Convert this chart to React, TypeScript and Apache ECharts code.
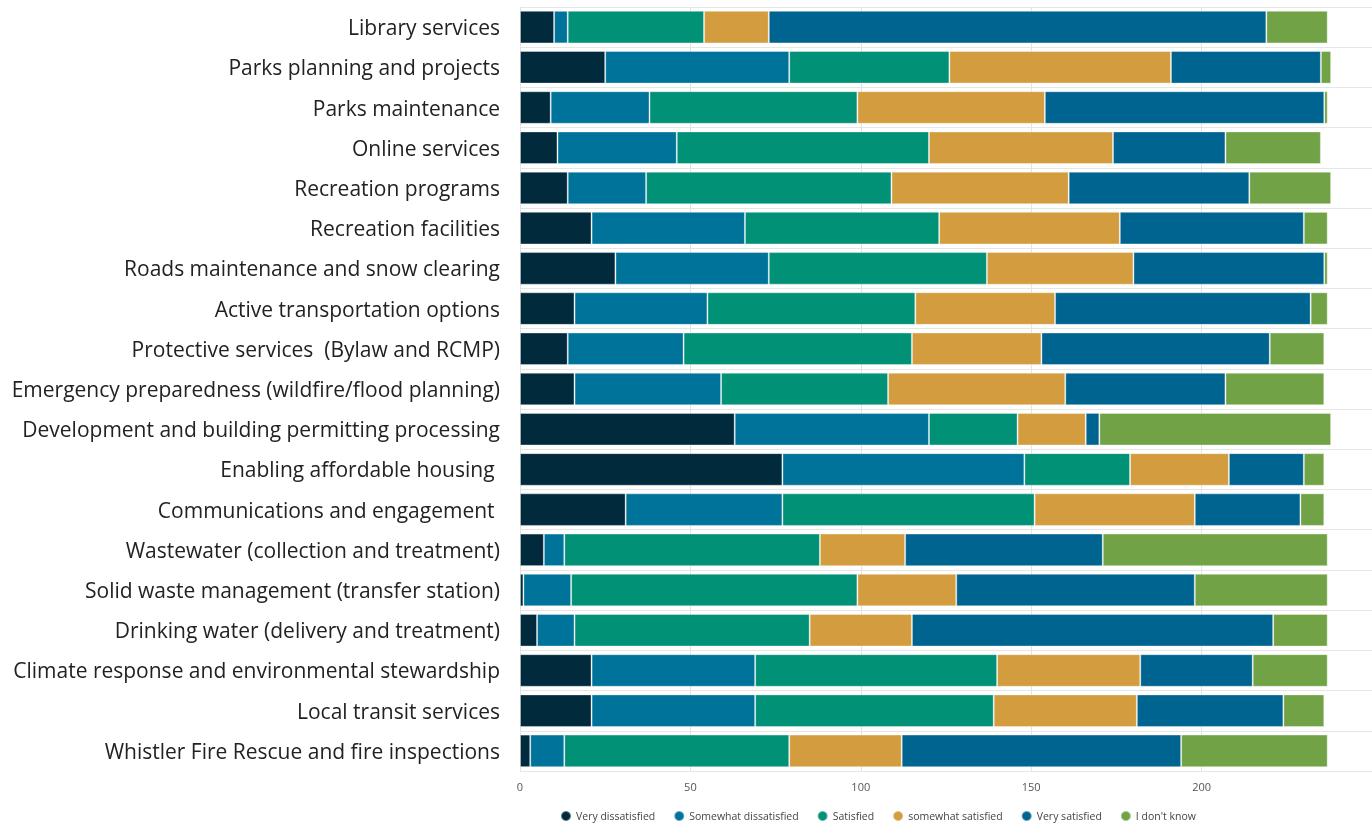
import React, { useEffect, useRef } from "react";
import * as echarts from "echarts";

const categories = [
  "Library services",
  "Parks planning and projects",
  "Parks maintenance",
  "Online services",
  "Recreation programs",
  "Recreation facilities",
  "Roads maintenance and snow clearing",
  "Active transportation options",
  "Protective services  (Bylaw and RCMP)",
  "Emergency preparedness (wildfire/flood planning)",
  "Development and building permitting processing",
  "Enabling affordable housing ",
  "Communications and engagement ",
  "Wastewater (collection and treatment)",
  "Solid waste management (transfer station)",
  "Drinking water (delivery and treatment)",
  "Climate response and environmental stewardship",
  "Local transit services",
  "Whistler Fire Rescue and fire inspections",
];

const veryDissatisfied = [10, 25, 9, 11, 14, 21, 28, 16, 14, 16, 63, 77, 31, 7, 1, 5, 21, 21, 3];
const somewhatDissatisfied = [4, 54, 29, 35, 23, 45, 45, 39, 34, 43, 57, 71, 46, 6, 14, 11, 48, 48, 10];
const satisfied = [40, 47, 61, 74, 72, 57, 64, 61, 67, 49, 26, 31, 74, 75, 84, 69, 71, 70, 66];
const somewhatSatisfied = [19, 65, 55, 54, 52, 53, 43, 41, 38, 52, 20, 29, 47, 25, 29, 30, 42, 42, 33];
const verySatisfied = [146, 44, 82, 33, 53, 54, 56, 75, 67, 47, 4, 22, 31, 58, 70, 106, 33, 43, 82];
const dontKnow = [18, 3, 1, 28, 24, 7, 1, 5, 16, 29, 68, 6, 7, 66, 39, 16, 22, 12, 43];

const xTicks = [0, 50, 100, 150, 200, 250];

const seriesDefs = [
  { name: "Very dissatisfied", data: veryDissatisfied, color: "#012a3c" },
  { name: "Somewhat dissatisfied", data: somewhatDissatisfied, color: "#00739a" },
  { name: "Satisfied", data: satisfied, color: "#009177" },
  { name: "somewhat satisfied", data: somewhatSatisfied, color: "#d39c3e" },
  { name: "Very satisfied", data: verySatisfied, color: "#006491" },
  { name: "I don't know", data: dontKnow, color: "#71a245" },
];

export default function App() {
  const ref = useRef<HTMLDivElement>(null);
  useEffect(() => {
    if (!ref.current) return;
    const chart = echarts.init(ref.current, null, { renderer: "svg" });
    chart.setOption({
      animation: false,
      textStyle: { fontFamily: "'Open Sans', 'Noto Sans', sans-serif" },
      grid: { left: 520, top: 7, width: 855, bottom: 56, containLabel: false },
      legend: {
        bottom: 0,
        left: 555,
        icon: "circle",
        itemWidth: 10,
        itemHeight: 10,
        itemGap: 18,
        textStyle: { fontSize: 10.5, color: "#444" },
        data: seriesDefs.map((s) => s.name),
      },
      xAxis: {
        type: "value",
        min: xTicks[0],
        max: xTicks[xTicks.length - 1],
        interval: 50,
        axisLine: { show: false },
        axisTick: { show: false },
        axisLabel: {
          fontSize: 11,
          color: "#555",
          margin: 10,
          showMaxLabel: false,
        },
        splitLine: { show: true, lineStyle: { color: "#e3e3e3", width: 1 } },
      },
      yAxis: {
        type: "category",
        data: categories,
        inverse: true,
        axisLine: { show: true, lineStyle: { color: "#e3e3e3" } },
        axisTick: { show: false },
        axisLabel: { fontSize: 21, color: "#222", margin: 20, lineHeight: 26, padding: [0, 0, 4, 0] },
        splitLine: { show: true, lineStyle: { color: "#e6e6e6", width: 1 } },
      },
      series: seriesDefs.map((s) => ({
        type: "bar",
        name: s.name,
        stack: "total",
        data: s.data,
        barCategoryGap: "19%",
        itemStyle: { color: s.color, borderColor: "rgba(255,255,255,0.35)", borderWidth: 1 },
        emphasis: { disabled: true },
      })),
    });
    return () => chart.dispose();
  }, []);
  return (
    <div
      ref={ref}
      style={{ position: "fixed", left: 0, top: 0, width: 1372, height: 827 }}
    />
  );
}
